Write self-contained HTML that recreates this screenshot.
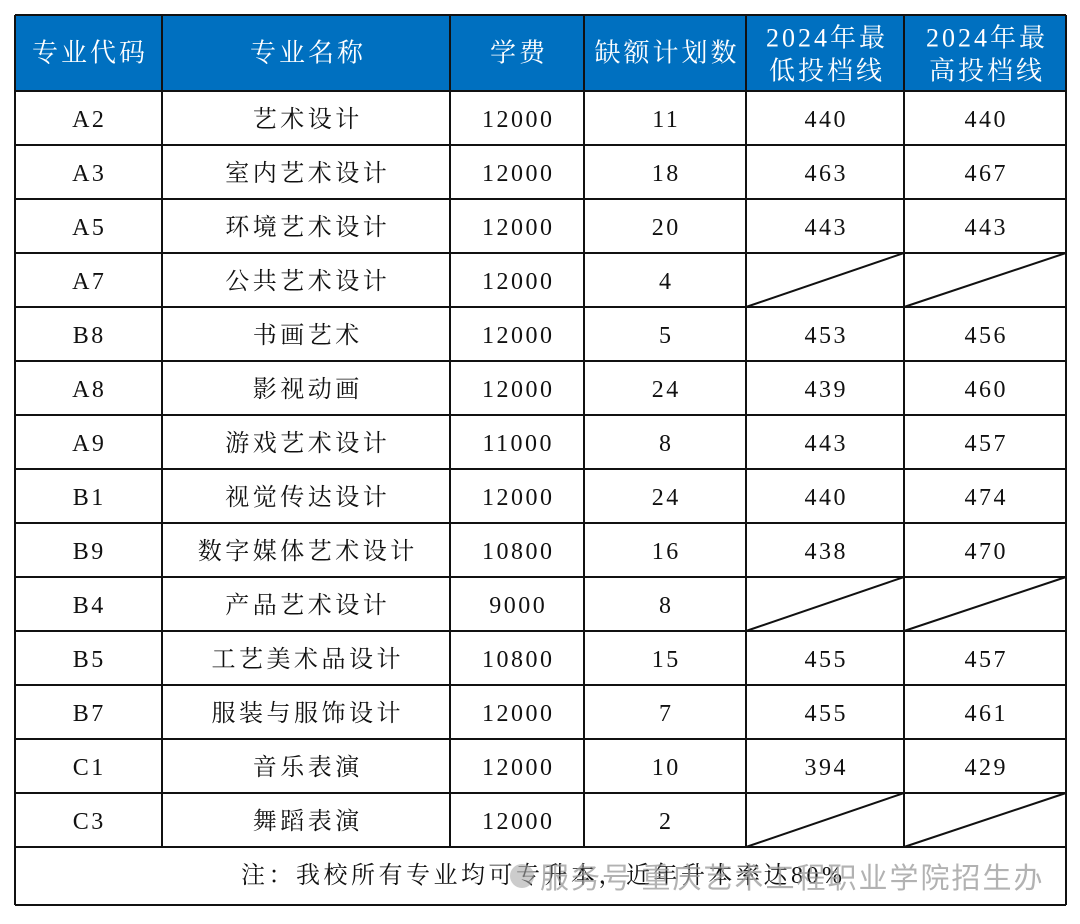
<!DOCTYPE html>
<html><head><meta charset="utf-8"><style>
body{margin:0;background:#fff;width:1080px;height:919px;overflow:hidden}
svg text{font-family:"Liberation Serif","Noto Serif CJK SC",serif;}
</style></head><body>
<svg width="1080" height="919" xmlns="http://www.w3.org/2000/svg">
<rect x="15" y="15" width="1051" height="76" fill="#0070C0"/>
<g fill="#fff" font-size="26" text-anchor="middle" dominant-baseline="central" letter-spacing="3">
<text x="90" y="53">专业代码</text>
<text x="308" y="53">专业名称</text>
<text x="519" y="53">学费</text>
<text x="667" y="53">缺额计划数</text>
<text x="827" y="38">2024年最</text><text x="827" y="71">低投档线</text>
<text x="987" y="38">2024年最</text><text x="987" y="71">高投档线</text>
</g>
<g fill="#111" font-size="24" text-anchor="middle" dominant-baseline="central" id="rows"></g>
<g stroke="#111" stroke-width="2" fill="none" id="lines"></g>
<text x="241" y="876" font-size="24" fill="#111" dominant-baseline="central" letter-spacing="3.5">注：我校所有专业均可专升本，近年升本率达80%</text>
<text x="540" y="876" font-size="29" fill="#999" opacity="0.75" dominant-baseline="central" letter-spacing="2" style="font-family:'Noto Sans CJK SC',sans-serif">服务号 重庆艺术工程职业学院招生办</text>
<circle cx="522" cy="876" r="12" fill="#aaa" opacity="0.6"/>
</svg>
<script>
var data=[["A2","艺术设计","12000","11","440","440"],["A3","室内艺术设计","12000","18","463","467"],["A5","环境艺术设计","12000","20","443","443"],["A7","公共艺术设计","12000","4","",""],["B8","书画艺术","12000","5","453","456"],["A8","影视动画","12000","24","439","460"],["A9","游戏艺术设计","11000","8","443","457"],["B1","视觉传达设计","12000","24","440","474"],["B9","数字媒体艺术设计","10800","16","438","470"],["B4","产品艺术设计","9000","8","",""],["B5","工艺美术品设计","10800","15","455","457"],["B7","服装与服饰设计","12000","7","455","461"],["C1","音乐表演","12000","10","394","429"],["C3","舞蹈表演","12000","2","",""]];
var cx=[88,306,517,665,825,985],xs=[15,162,450,584,746,904,1066];
var ns="http://www.w3.org/2000/svg",R=document.getElementById("rows"),L=document.getElementById("lines");
function ln(a,b,c,d){var l=document.createElementNS(ns,"line");l.setAttribute("x1",a);l.setAttribute("y1",b);l.setAttribute("x2",c);l.setAttribute("y2",d);L.appendChild(l);}
data.forEach(function(r,i){var y0=91+54*i;r.forEach(function(t,j){if(t){var e=document.createElementNS(ns,"text");var ls=(j==1)?3.5:2.5;e.setAttribute("x",cx[j]+ls/2);e.setAttribute("y",y0+29);e.setAttribute("letter-spacing",ls);e.textContent=t;R.appendChild(e);}});
if(!r[4]){ln(746,y0+54,904,y0);ln(904,y0+54,1066,y0);}});
for(var i=0;i<=14;i++)ln(15,91+54*i,1066,91+54*i);
ln(15,15,1066,15);ln(15,905,1066,905);ln(15,15,15,905);ln(1066,15,1066,905);
for(var k=1;k<6;k++)ln(xs[k],15,xs[k],847);
</script>
</body></html>
